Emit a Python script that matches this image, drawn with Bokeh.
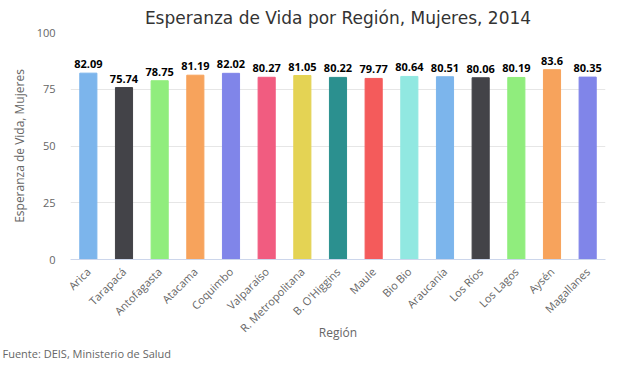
import math
from bokeh.plotting import figure
from bokeh.models import ColumnDataSource, Title, FixedTicker
from bokeh.core.properties import value
from bokeh.embed import file_html
from bokeh.resources import INLINE

regions = ["Arica", "Tarapacá", "Antofagasta", "Atacama", "Coquimbo", "Valparaíso",
           "R. Metropolitana", "B. O'Higgins", "Maule", "Bio Bio", "Araucanía",
           "Los Ríos", "Los Lagos", "Aysén", "Magallanes"]
esperanza = [82.09, 75.74, 78.75, 81.19, 82.02, 80.27, 81.05, 80.22, 79.77, 80.64,
             80.51, 80.06, 80.19, 83.6, 80.35]
y_ticks = [0, 25, 50, 75, 100]
palette = ["#7cb5ec", "#434348", "#90ed7d", "#f7a35c", "#8085e9", "#f15c80",
           "#e4d354", "#2b908f", "#f45b5b", "#91e8e1"]

colors = [palette[i % len(palette)] for i in range(len(regions))]
labels = [str(v) for v in esperanza]
src = ColumnDataSource(dict(x=regions, top=esperanza, color=colors, label=labels))

p = figure(x_range=regions, y_range=(0, 100), width=611, height=360,
           output_backend="svg", toolbar_location=None,
           min_border_left=70, min_border_right=6, min_border_top=27, min_border_bottom=0)
p.outline_line_color = None
p.background_fill_color = "white"

p.title.text = "Esperanza de Vida por Región, Mujeres, 2014"
p.title.align = "center"
p.title.text_font = "DejaVu Sans"
p.title.text_font_size = "17px"
p.title.text_font_style = "normal"
p.title.text_color = "#333333"

p.vbar(x="x", top="top", width=0.48, color="color", source=src)
p.text(x="x", y="top", text="label", source=src, text_align="center",
       text_baseline="bottom", y_offset=-5, text_font=value("Open Sans"),
       text_font_size="11px", text_font_style="bold", text_color="#000000")

p.yaxis.ticker = FixedTicker(ticks=y_ticks)
p.yaxis.axis_line_color = None
p.yaxis.major_tick_line_color = None
p.yaxis.minor_tick_line_color = None
p.yaxis.major_tick_out = 0
p.yaxis.major_label_text_color = "#666666"
p.yaxis.major_label_text_font = "Open Sans"
p.yaxis.major_label_text_font_size = "11px"
p.yaxis.major_label_standoff = 15
p.yaxis.axis_label = "Esperanza de Vida, Mujeres"
p.yaxis.axis_label_text_font = "Open Sans"
p.yaxis.axis_label_text_font_style = "normal"
p.yaxis.axis_label_text_font_size = "12px"
p.yaxis.axis_label_text_color = "#666666"
p.yaxis.axis_label_standoff = 6

p.xaxis.axis_line_color = "#ccd6eb"
p.xaxis.major_tick_line_color = None
p.xaxis.minor_tick_line_color = None
p.xaxis.major_tick_out = 0
p.xaxis.major_tick_in = 0
p.xaxis.major_label_orientation = math.pi / 4
p.xaxis.major_label_text_color = "#666666"
p.xaxis.major_label_text_font = "Open Sans"
p.xaxis.major_label_text_font_size = "11px"
p.xaxis.major_label_standoff = 10
p.xaxis.axis_label = "Región"
p.xaxis.axis_label_text_font = "Open Sans"
p.xaxis.axis_label_text_font_style = "normal"
p.xaxis.axis_label_text_font_size = "12px"
p.xaxis.axis_label_text_color = "#666666"
p.xaxis.axis_label_standoff = -20

p.xgrid.grid_line_color = None
p.ygrid.grid_line_color = "#e6e6e6"

src_title = Title(text="Fuente: DEIS, Ministerio de Salud", align="left",
                  text_font="Open Sans", text_font_size="11px",
                  text_font_style="normal", text_color="#666666",
                  offset=-68, standoff=0)
p.add_layout(src_title, "below")

open("out.html", "w").write(file_html(p, INLINE))
